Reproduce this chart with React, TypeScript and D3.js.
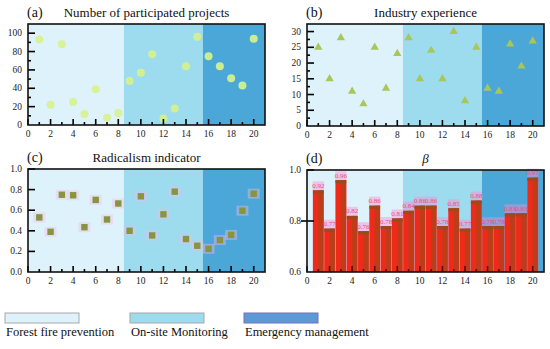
import React from 'react'
import * as d3 from 'd3'

// team members along the x axis
const members = [1, 2, 3, 4, 5, 6, 7, 8, 9, 10, 11, 12, 13, 14, 15, 16, 17, 18, 19, 20]
const projects = [93, 22, 88, 25, 12, 39, 8, 13, 48, 57, 77, 7, 18, 64, 96, 75, 64, 51, 43, 94]
const experience = [25, 15, 28, 11, 7, 25, 12, 23, 28, 15, 24, 15, 30, 8, 25, 12, 11, 26, 19, 27]
const radicalism = [0.53, 0.39, 0.75, 0.745, 0.435, 0.7, 0.51, 0.665, 0.4, 0.735, 0.355, 0.56, 0.78, 0.32, 0.255, 0.225, 0.31, 0.36, 0.595, 0.76]
const beta = [0.92, 0.77, 0.96, 0.82, 0.76, 0.86, 0.78, 0.81, 0.84, 0.86, 0.86, 0.78, 0.85, 0.77, 0.88, 0.78, 0.78, 0.83, 0.83, 0.97]

const groupNames = ['Forest fire prevention', 'On-site Monitoring', 'Emergency management']
const groupEdges = [0, 8.5, 15.5, 21]
const groupColors = ['#def2fb', '#9ddbef', '#4ba7d7']

const xTicks = [0, 2, 4, 6, 8, 10, 12, 14, 16, 18, 20]
const xMinor = [1, 3, 5, 7, 9, 11, 13, 15, 17, 19]

const F = 'Liberation Serif'

const Panel = ({box, yDomain, yTicks, yMinor, yFormat, tag, title, italic, tickColor, children}) => {
    const [x0, x1, y0, y1] = box
    const x = d3.scaleLinear().domain([0, 21]).range([x0, x1])
    const y = d3.scaleLinear().domain(yDomain).range([y1, y0])
    return (
        <g>
            {groupNames.map((g, i) => (
                <rect key={g} x={x(groupEdges[i])} y={y0} width={x(groupEdges[i + 1]) - x(groupEdges[i])}
                    height={y1 - y0} fill={groupColors[i]} />
            ))}
            {children(x, y)}
            {xTicks.map(t => (
                <line key={'M' + t} x1={x(t)} x2={x(t)} y1={y1} y2={y1 - 6} stroke={tickColor || '#000'} strokeWidth={1.6} />
            ))}
            {xMinor.map(t => (
                <line key={'m' + t} x1={x(t)} x2={x(t)} y1={y1} y2={y1 - 3} stroke={tickColor || '#000'} strokeWidth={1.6} />
            ))}
            {yTicks.filter(t => t > yDomain[0]).map(t => (
                <line key={'yM' + t} x1={x0} x2={x0 + 7} y1={y(t)} y2={y(t)} stroke="#000" strokeWidth={1.6} />
            ))}
            {yMinor.map(t => (
                <line key={'ym' + t} x1={x0} x2={x0 + 3} y1={y(t)} y2={y(t)} stroke="#000" strokeWidth={1.6} />
            ))}
            <rect x={x0} y={y0} width={x1 - x0} height={y1 - y0} fill="none" stroke="#111" strokeWidth={1.6} />
            {xTicks.map(t => (
                <text key={'xl' + t} x={x(t)} y={y1 + 12} textAnchor="middle" fontFamily={F} fontSize={9.5} fill="#222">{t}</text>
            ))}
            {yTicks.map(t => (
                <text key={'yl' + t} x={x0 - 6} y={y(t) + 3} textAnchor="end" fontFamily={F} fontSize={9.5} fill="#222">{yFormat(t)}</text>
            ))}
            <text x={x0 - 1} y={y0 - 7} fontFamily={F} fontSize={14} fill="#111">{tag}</text>
            <text x={(x0 + x1) / 2} y={y0 - 7} textAnchor="middle" fontFamily={F} fontSize={13}
                fontStyle={italic ? 'italic' : 'normal'} fill="#111">{title}</text>
        </g>
    )
}

const tri = d3.symbol().type(d3.symbolTriangle).size(30)()

export default function App() {
    return (
        <svg width={550} height={349} fontFamily={F} style={{display: 'block', position: 'absolute', left: 0, top: 0}}>
            <rect width={550} height={349} fill="#fff" />
            <Panel box={[28, 265, 24, 125]} yDomain={[0, 110]} yTicks={[0, 20, 40, 60, 80, 100]}
                yMinor={[10, 30, 50, 70, 90]} yFormat={d => d} tag="(a)" title="Number of participated projects">
                {(x, y) => members.map((m, i) => (
                    <circle key={m} cx={x(m)} cy={y(projects[i])} r={4} fill="#d6f28e" opacity={0.92} />
                ))}
            </Panel>
            <Panel box={[307, 544, 24, 126]} yDomain={[0, 32.4]} yTicks={[0, 5, 10, 15, 20, 25, 30]}
                yMinor={[2.5, 7.5, 12.5, 17.5, 22.5, 27.5]} yFormat={d => d} tag="(b)" title="Industry experience">
                {(x, y) => members.map((m, i) => (
                    <path key={m} d={tri} transform={`translate(${x(m)},${y(experience[i])})`} fill="#a9c65a" />
                ))}
            </Panel>
            <Panel box={[28, 265, 169, 272]} yDomain={[0, 1.0]} yTicks={[0, 0.2, 0.4, 0.6, 0.8, 1.0]}
                yMinor={[]} yFormat={d => d.toFixed(1)} tag="(c)" title="Radicalism indicator">
                {(x, y) => members.map((m, i) => (
                    <g key={m}>
                        <rect x={x(m) - 6} y={y(radicalism[i]) - 5} width={12} height={10} fill="#f9b8e6" opacity={0.4} />
                        <rect x={x(m) - 3.2} y={y(radicalism[i]) - 3.2} width={6.4} height={6.4} fill="#869540" />
                    </g>
                ))}
            </Panel>
            <Panel box={[307, 544, 170, 272]} yDomain={[0.6, 1.0]} yTicks={[0.6, 0.8, 1.0]}
                yMinor={[]} yFormat={d => d.toFixed(1)} tag="(d)" title="β" italic tickColor="#5a0a0a">
                {(x, y) => {
                    const step = x(1) - x(0)
                    const w = step * 0.95
                    return (
                        <g>
                            {members.map((m, i) => (
                                <rect key={'h' + m} x={x(m) - step / 2} y={y(beta[i]) - 9}
                                    width={step} height={y(0.6) - y(beta[i]) + 9} fill="#ff8ad6" opacity={0.45} />
                            ))}
                            {members.map((m, i) => (
                                <g key={'b' + m}>
                                    <rect x={x(m) - w / 2} y={y(beta[i])} width={w} height={y(0.6) - y(beta[i])} fill="#f02a18" />
                                    <rect x={x(m)} y={y(beta[i])} width={w / 2} height={y(0.6) - y(beta[i])} fill="#a8461a" opacity={0.75} />
                                    <rect x={x(m) - w / 2} y={y(beta[i])} width={w} height={3} fill="#9a4a1c" />
                                    <text x={x(m)} y={y(beta[i]) - 2.5} textAnchor="middle" fontFamily={F} fontSize={7}
                                        fill="#e2566c">{beta[i].toFixed(2)}</text>
                                </g>
                            ))}
                            <line x1={x(0) - 6} x2={x(0)} y1={y(0.8)} y2={y(0.8)} stroke="#000" strokeWidth={1.6} />
                        </g>
                    )
                }}
            </Panel>
            {groupNames.map((g, i) => {
                const lx = [5, 130, 244][i]
                return (
                    <g key={g}>
                        <rect x={lx} y={313} width={74} height={10} fill={i === 2 ? '#5b9bd5' : groupColors[i]}
                            stroke={i === 2 ? '#7a6fb8' : '#a8a8a8'} strokeWidth={1} />
                        <text x={lx + 1} y={336} fontFamily={F} fontSize={12.5} fill="#111">{g}</text>
                    </g>
                )
            })}
        </svg>
    )
}
